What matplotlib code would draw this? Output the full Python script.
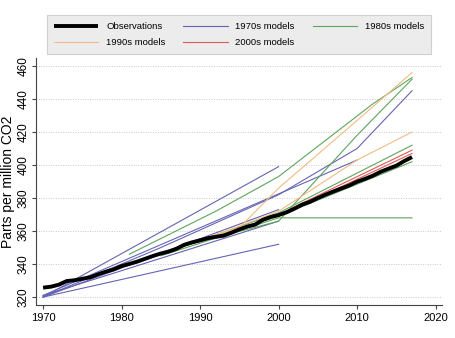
import matplotlib
matplotlib.use("Agg")
import matplotlib.pyplot as plt

plt.rcParams["font.family"] = ["Liberation Sans", "DejaVu Sans"]

# Mauna Loa annual means
obs_years = list(range(1970, 2018))
obs_ppm = [325.7, 326.3, 327.5, 329.7, 330.2, 331.1, 332.0, 333.8, 335.4, 336.8,
           338.8, 340.1, 341.5, 343.2, 344.9, 346.4, 347.6, 349.3, 351.7, 353.2,
           354.4, 355.7, 356.5, 357.2, 359.0, 361.0, 362.7, 363.9, 366.8, 368.5,
           369.7, 371.3, 373.5, 376.0, 377.7, 380.0, 382.1, 384.0, 385.8, 387.6,
           389.9, 391.6, 393.5, 395.9, 397.8, 399.6, 402.4, 404.8]

# model projections: (years, ppm)
models_1970s = [
    ([1970, 2000], [320, 399]),
    ([1970, 2000], [320, 352]),
    ([1970, 1985, 2000, 2010, 2017], [320, 350, 382, 410, 445]),
    ([1970, 2010], [321, 403]),
    ([1970, 2000], [320, 373]),
    ([1970, 2000], [321, 366]),
]
models_1980s = [
    ([1981, 1992, 2000, 2012, 2017], [346, 372, 393, 437, 453]),
    ([1988, 2000, 2010, 2017], [351, 366, 418, 452]),
    ([1985, 2000, 2017], [346, 371, 412]),
    ([1988, 2000, 2017], [351, 369, 402]),
    ([1985, 2000, 2017], [345, 368, 368]),
]
models_1990s = [
    ([1990, 1995, 2000, 2010, 2017], [355, 362, 386, 427, 456]),
    ([1990, 2000, 2010, 2017], [354, 372, 403, 420]),
]
models_2000s = [
    ([2000, 2017], [370, 409]),
    ([2000, 2017], [369, 407]),
]

colors = {
    "1970s": "#6464b4",
    "1980s": "#5ea55e",
    "1990s": "#f3bb84",
    "2000s": "#e05a55",
}

fig = plt.figure(figsize=(4.56, 3.38), dpi=100)
ax = fig.add_axes([0.079, 0.0976, 0.890, 0.7317])

handles = {}
for name, group in [("1970s", models_1970s), ("1980s", models_1980s),
                    ("1990s", models_1990s), ("2000s", models_2000s)]:
    for yrs, vals in group:
        h, = ax.plot(yrs, vals, color=colors[name], lw=0.8, zorder=2)
    handles[name] = h

h_obs, = ax.plot(obs_years, obs_ppm, color="black", lw=2.8, zorder=5,
                 solid_capstyle="butt")

ax.set_xlim(1969.1, 2020.8)
ax.set_ylim(315.2, 465)
ax.set_xticks([1970, 1980, 1990, 2000, 2010, 2020])
ax.set_yticks([320, 340, 360, 380, 400, 420, 440, 460])
ax.tick_params(axis="x", labelsize=8, length=3, pad=2.5, width=0.8, color="#444444")
ax.tick_params(axis="y", labelsize=8.5, length=3, pad=1.5, width=0.8, color="#444444")
for lab in ax.get_yticklabels():
    lab.set_rotation(90)
    lab.set_va("center")
ax.set_ylabel("Parts per million CO2", fontsize=10, labelpad=2)

for s in ["top", "right"]:
    ax.spines[s].set_visible(False)
for s in ["left", "bottom"]:
    ax.spines[s].set_color("#444444")
    ax.spines[s].set_linewidth(0.8)

ax.yaxis.grid(True, linestyle=(0, (1, 1.5)), color="#c8c8c8", lw=0.7)
ax.set_axisbelow(True)

leg = fig.legend(
    [h_obs, handles["1990s"], handles["1970s"], handles["2000s"], handles["1980s"]],
    ["Observations", "1990s models", "1970s models", "2000s models", "1980s models"],
    loc="upper left", bbox_to_anchor=(47 / 456, 1 - 54 / 338, 384 / 456, 39 / 338),
    mode="expand", ncol=3, fontsize=6.8, handlelength=4.7, handletextpad=0.8,
    borderaxespad=0, labelspacing=0.75, borderpad=0.75, fancybox=False,
    frameon=True,
)
leg.get_frame().set_facecolor("#ececec")
leg.get_frame().set_edgecolor("#d0d0d0")
leg.get_frame().set_linewidth(0.8)
leg.get_frame().set_alpha(1)

fig.savefig("out.png", dpi=100)
